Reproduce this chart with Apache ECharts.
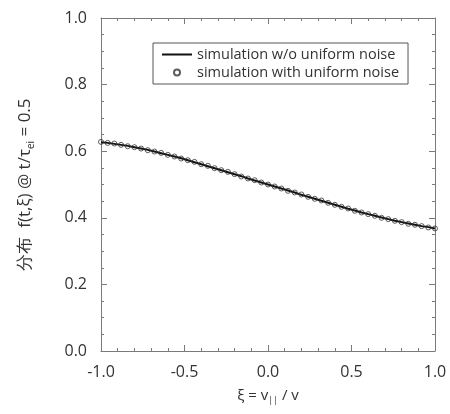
<!DOCTYPE html>
<html>
<head>
<meta charset="utf-8">
<script src="https://cdn.jsdelivr.net/npm/echarts@6/dist/echarts.min.js"></script>
<style>html,body{margin:0;padding:0;background:#fff}#c{width:450px;height:414px}</style>
</head>
<body>
<div id="c"></div>
<script>
// xi values (ξ = v∥ / v)
var xi = [-1.00,-0.96,-0.92,-0.88,-0.84,-0.80,-0.76,-0.72,-0.68,-0.64,-0.60,-0.56,-0.52,-0.48,-0.44,-0.40,-0.36,-0.32,-0.28,-0.24,-0.20,-0.16,-0.12,-0.08,-0.04,0.00,0.04,0.08,0.12,0.16,0.20,0.24,0.28,0.32,0.36,0.40,0.44,0.48,0.52,0.56,0.60,0.64,0.68,0.72,0.76,0.80,0.84,0.88,0.92,0.96,1.00];
// simulation w/o uniform noise (line)
var fNoNoise = [0.627,0.625,0.622,0.619,0.616,0.612,0.608,0.604,0.599,0.594,0.589,0.584,0.579,0.573,0.567,0.561,0.555,0.549,0.543,0.537,0.531,0.525,0.518,0.512,0.506,0.500,0.494,0.488,0.482,0.476,0.469,0.463,0.457,0.451,0.445,0.439,0.433,0.427,0.422,0.416,0.411,0.406,0.401,0.396,0.391,0.387,0.383,0.379,0.375,0.372,0.368];
// simulation with uniform noise (circles)
var fNoise = [0.628,0.625,0.623,0.619,0.615,0.612,0.608,0.603,0.599,0.595,0.589,0.584,0.578,0.573,0.568,0.561,0.556,0.549,0.543,0.538,0.531,0.524,0.518,0.513,0.506,0.500,0.494,0.488,0.481,0.476,0.470,0.463,0.457,0.452,0.445,0.439,0.433,0.428,0.421,0.416,0.411,0.406,0.400,0.396,0.391,0.387,0.382,0.379,0.375,0.371,0.368];
var xTicks = ['-1.0','-0.5','0.0','0.5','1.0'];
var yTicks = ['0.0','0.2','0.4','0.6','0.8','1.0'];
var seriesNames = ['simulation w/o uniform noise','simulation with uniform noise'];

function pairs(x, y){ return x.map(function(v,i){ return [v, y[i]]; }); }

var axisCol = '#7a7a7a';
var FONT = 'Open Sans';
var chart = echarts.init(document.getElementById('c'), null, {renderer:'canvas'});
var baseX = {
  type:'value', min:-1, max:1, interval:0.5,
  axisLine:{show:true, onZero:false, lineStyle:{color:axisCol, width:1}},
  axisTick:{show:true, inside:true, length:6, lineStyle:{color:axisCol}},
  minorTick:{show:true, splitNumber:5, length:3, lineStyle:{color:axisCol}},
  splitLine:{show:false}
};
var baseY = {
  type:'value', min:0, max:1, interval:0.2,
  axisLine:{show:true, onZero:false, lineStyle:{color:axisCol, width:1}},
  axisTick:{show:true, inside:true, length:6, lineStyle:{color:axisCol}},
  minorTick:{show:true, splitNumber:4, length:3, lineStyle:{color:axisCol}},
  splitLine:{show:false}
};
var lineIcon = 'path://M0,0L0.01,0Z M0,2L30,2L30,4L0,4Z M0,6L0.01,6Z';
chart.setOption({
  animation:false,
  backgroundColor:'#fff',
  grid:{left:101, right:15, top:18, bottom:63, containLabel:false},
  legend:{
    orient:'vertical', left:153, top:43,
    padding:[4,9,4,9], itemGap:3, itemWidth:30, itemHeight:6,
    borderColor:'#555', borderWidth:1, backgroundColor:'#fff',
    textStyle:{fontFamily:FONT, fontSize:14.5, color:'#333'},
    data:[
      {name:seriesNames[0], icon:lineIcon},
      {name:seriesNames[1], icon:'circle'}
    ]
  },
  xAxis:[
    Object.assign({}, baseX, {
      position:'bottom',
      axisLabel:{show:true, margin:13, fontFamily:FONT, fontSize:16, color:'#333',
        formatter:function(v){ var i = Math.round((v+1)/0.5); return xTicks[i]; }},
      name:'ξ = v{sub|||} / v', nameLocation:'middle', nameGap:35,
      nameTextStyle:{fontFamily:FONT, fontSize:15, color:'#333',
        rich:{sub:{fontFamily:FONT, fontSize:9, color:'#333', verticalAlign:'bottom', padding:[10,0,0,0]}}}
    }),
    Object.assign({}, baseX, {position:'top', axisLabel:{show:false}})
  ],
  yAxis:[
    Object.assign({}, baseY, {
      position:'left',
      axisLabel:{show:true, margin:14, fontFamily:FONT, fontSize:16, color:'#333',
        formatter:function(v){ var i = Math.round(v/0.2); return yTicks[i]; }},
      name:'分布  f(t,ξ) @ t/τ{sub|ei} = 0.5', nameLocation:'middle', nameGap:65,
      nameTextStyle:{fontFamily:FONT, fontSize:17, color:'#333',
        rich:{sub:{fontFamily:FONT, fontSize:10, color:'#333', verticalAlign:'bottom', padding:[11,0,0,0]}}}
    }),
    Object.assign({}, baseY, {position:'right', axisLabel:{show:false}})
  ],
  series:[
    {
      name:seriesNames[0], type:'line', xAxisIndex:0, yAxisIndex:0,
      data:pairs(xi, fNoNoise), symbol:'none', showSymbol:false,
      lineStyle:{color:'#111', width:2}, itemStyle:{color:'#111'}, z:2
    },
    {
      name:seriesNames[1], type:'scatter', xAxisIndex:0, yAxisIndex:0,
      data:pairs(xi, fNoise), symbol:'circle', symbolSize:5,
      itemStyle:{color:'rgba(255,255,255,0)', borderColor:'#333', borderWidth:1}, z:3
    }
  ]
});
</script>
</body>
</html>
